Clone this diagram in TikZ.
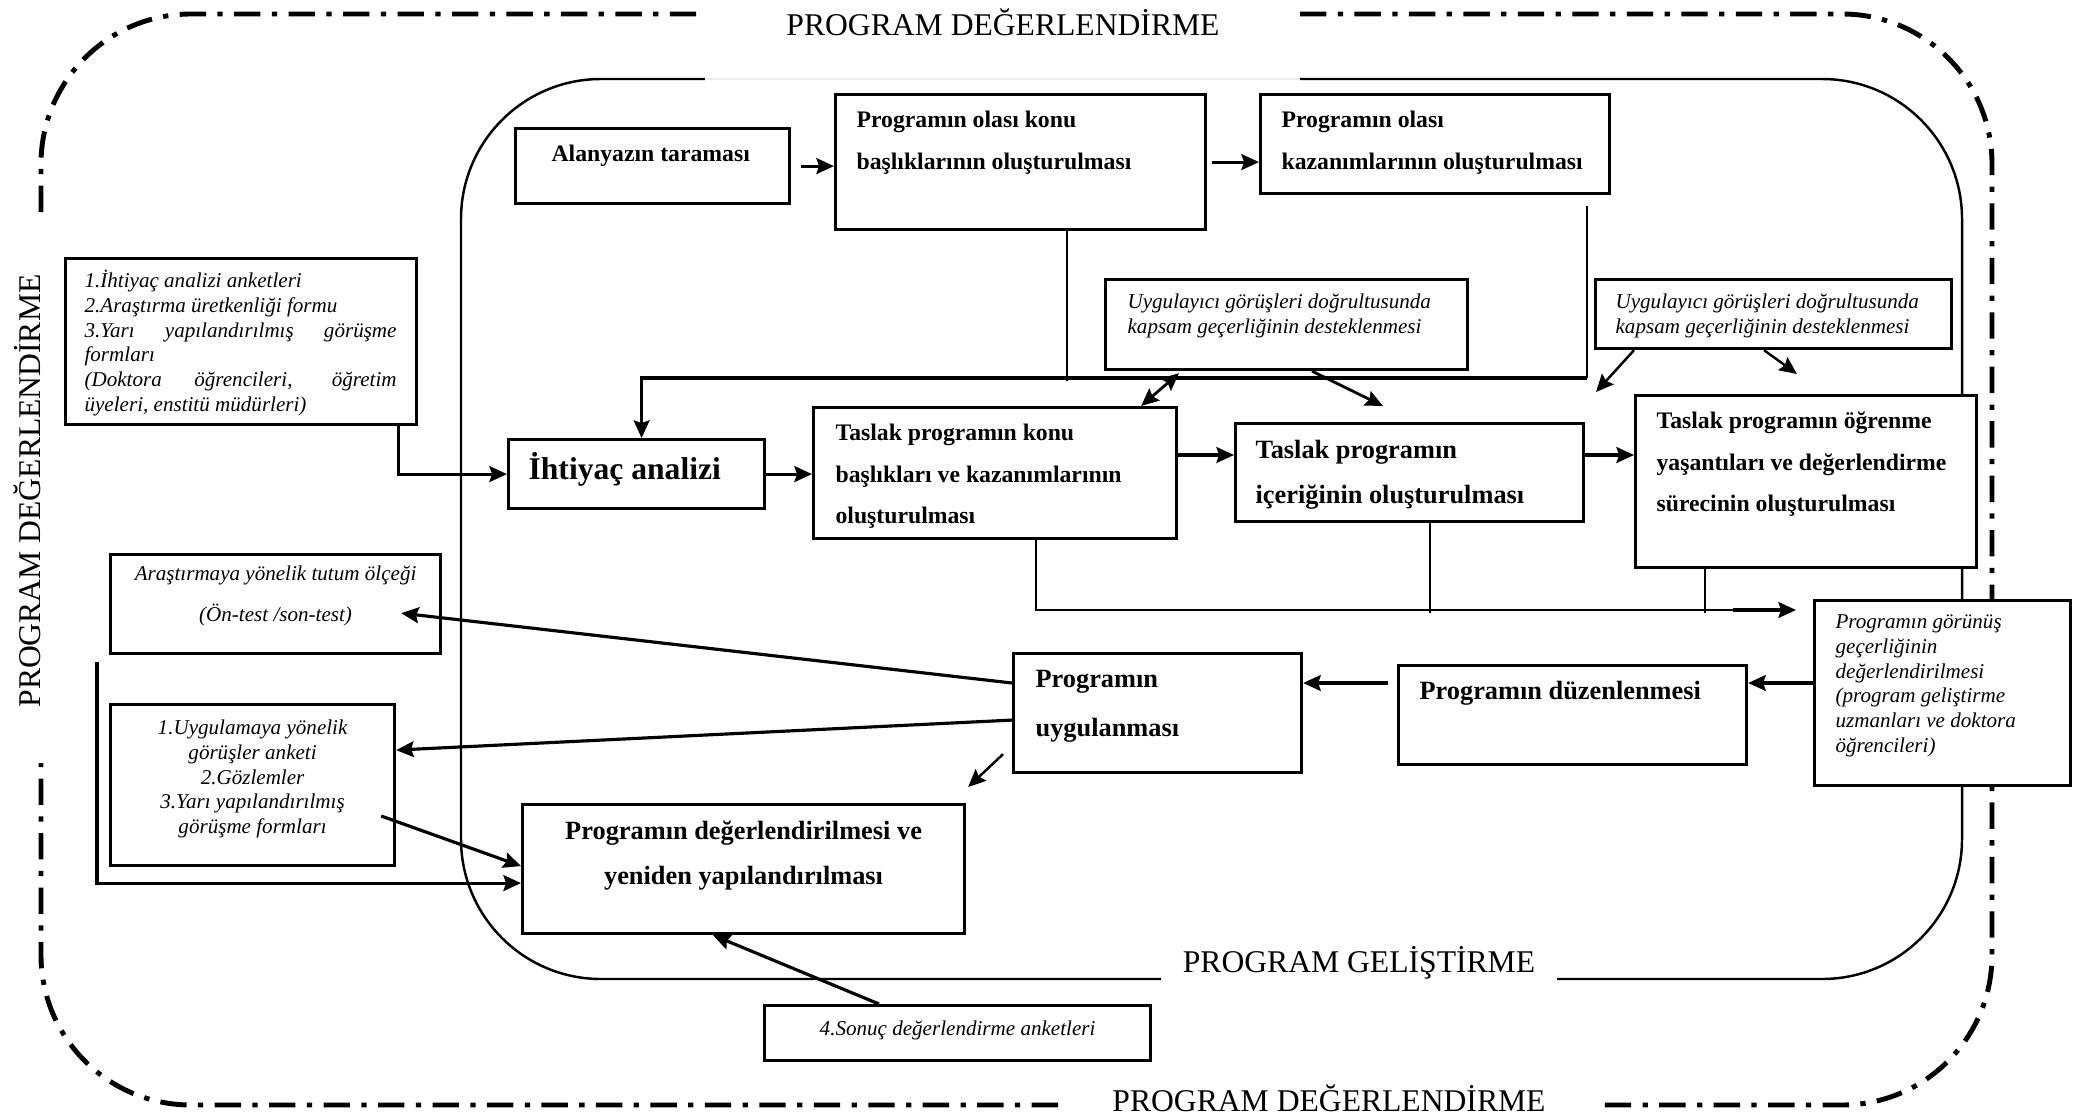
\documentclass[tikz,border=0pt]{standalone}
\usepackage{fontspec}
\setmainfont{Liberation Serif}
\usetikzlibrary{arrows.meta,calc}

\newlength{\pxu}
\setlength{\pxu}{0.02cm}
\newcommand{\inbox}[6]{\parbox[c][#2][t]{#1}{\leftskip=#4\rightskip=#5\vspace*{\dimexpr#3-0.9em\relax}\rule{0pt}{0.9em}#6}}
\newcommand{\boxfont}{\fontsize{13.5}{23.6}\selectfont\bfseries}
\newcommand{\bigboxfont}{\fontsize{15}{25.8}\selectfont\bfseries}
\newcommand{\headfont}{\fontsize{18}{22}\selectfont\bfseries}
\newcommand{\notefont}{\fontsize{12}{14.1}\selectfont\itshape}
\newcommand{\framefont}{\fontsize{18}{22}\selectfont}

\begin{document}
\begin{tikzpicture}[
			x = 0.02cm, y = -0.02cm,
      > = {Stealth[length=10pt,width=9pt,inset=1.5pt]},
			semithick]

			\tikzstyle{box}=[
			draw = black,
			line width = 1.8pt,
			fill = white,
			inner sep = 0pt,
			anchor = north west]
			\tikzstyle{link}=[line width = 1.1pt]
			\tikzstyle{flow}=[->, line width = 1.8pt]
			\tikzstyle{evalline}=[line width = 2.8pt, dash pattern = on 15pt off 6.5pt on 3pt off 6.5pt, rounded corners = 3cm]
			\tikzstyle{devline}=[line width = 1.4pt, rounded corners = 2.8cm]

			\useasboundingbox (0,0) rectangle (2081,1116);

			% program degerlendirme
			\draw[evalline] (1300,14) -- (1992,14) -- (1992,1105) -- (1599,1105);
			\draw[evalline] (1058,1105) -- (41,1105) -- (41,763);
			\draw[evalline] (41,212) -- (41,14) -- (705,14);
			\node[font=\framefont, anchor=base] (evaltop) at (1003,35) {PROGRAM DEĞERLENDİRME};
			\node[font=\framefont, anchor=base] (evalbottom) at (1329,1111) {PROGRAM DEĞERLENDİRME};
			\node[font=\framefont, anchor=base, rotate=90] (evalleft) at (40,491) {PROGRAM DEĞERLENDİRME};

			% program gelistirme
			\draw[devline] (705,79) -- (461,79) -- (461,979) -- (1161,979);
			\draw[devline] (1557,979) -- (1962,979) -- (1962,79) -- (1300,79);
			\draw[gray!15, line width = 0.6pt] (705,79) -- (1300,79);
			\node[font=\framefont, anchor=base] (devlabel) at (1359,972) {PROGRAM GELİŞTİRME};

			\node[box, font=\boxfont] (alan) at (514,127)
			{\inbox{274\pxu}{75\pxu}{33\pxu}{36\pxu}{0pt}{Alanyazın taraması}};
			\node[box, font=\boxfont] (konu) at (834,93)
			{\inbox{370\pxu}{135\pxu}{33\pxu}{21\pxu}{0pt}{Programın olası konu\\ başlıklarının oluşturulması}};
			\node[box, font=\boxfont] (kaz) at (1259,93)
			{\inbox{349\pxu}{99\pxu}{33\pxu}{21\pxu}{0pt}{Programın olası\\ kazanımlarının oluşturulması}};
			\node[box, font=\headfont] (ihtiyac) at (507,438)
			{\inbox{256\pxu}{69\pxu}{40\pxu}{20\pxu}{0pt}{İhtiyaç analizi}};
			\node[box, font=\boxfont] (taslakkonu) at (812,406)
			{\inbox{363\pxu}{131\pxu}{33\pxu}{22\pxu}{0pt}{Taslak programın konu\\ başlıkları ve kazanımlarının\\ oluşturulması}};
			\node[box, font=\bigboxfont] (icerik) at (1234,422)
			{\inbox{348\pxu}{98\pxu}{35\pxu}{20\pxu}{0pt}{Taslak programın\\ içeriğinin oluşturulması}};
			\node[box, font=\boxfont] (ogrenme) at (1634,394)
			{\inbox{341\pxu}{172\pxu}{33\pxu}{21\pxu}{0pt}{Taslak programın öğrenme\\ yaşantıları ve değerlendirme\\ sürecinin oluşturulması}};
			\node[box, font=\notefont] (gorunus) at (1813,599)
			{\inbox{256\pxu}{185\pxu}{28\pxu}{21\pxu}{0pt}{Programın görünüş\\ geçerliğinin\\ değerlendirilmesi\\ (program geliştirme\\ uzmanları ve doktora\\ öğrencileri)}};
			\node[box, font=\bigboxfont] (duzen) at (1397,664)
			{\inbox{348\pxu}{99\pxu}{34\pxu}{21\pxu}{0pt}{Programın düzenlenmesi}};
			\node[box, font=\bigboxfont] (uygulan) at (1012,652)
			{\inbox{288\pxu}{119\pxu}{34\pxu}{22\pxu}{0pt}{Programın\\[2pt] uygulanması}};
			\node[box, font=\bigboxfont] (deger) at (521,803)
			{\inbox{442\pxu}{129\pxu}{35\pxu}{0pt}{0pt}{\centering Programın değerlendirilmesi ve\\ yeniden yapılandırılması}};

			% olcme araclari
			\node[box, font=\notefont] (analizform) at (64,257)
			{\inbox{351\pxu}{166\pxu}{29\pxu}{19\pxu}{20\pxu}{1.İhtiyaç analizi anketleri\\ 2.Araştırma üretkenliği formu\\ 3.Yarı yapılandırılmış görüşme\linebreak formları\\ (Doktora öğrencileri, öğretim\linebreak üyeleri, enstitü müdürleri)}};
			\node[box, font=\notefont] (tutum) at (109,553)
			{\inbox{330\pxu}{99\pxu}{26\pxu}{0pt}{0pt}{\centering Araştırmaya yönelik tutum ölçeği\\[9pt] (Ön-test /son-test)}};
			\node[box, font=\notefont] (uygform) at (109,703)
			{\inbox{284\pxu}{161\pxu}{30\pxu}{0pt}{0pt}{\centering 1.Uygulamaya yönelik\\ görüşler anketi\\ 2.Gözlemler\\ 3.Yarı yapılandırılmış\\ görüşme formları}};
			\node[box, font=\notefont] (uyggorus1) at (1104,278)
			{\inbox{362\pxu}{90\pxu}{29\pxu}{22\pxu}{0pt}{Uygulayıcı görüşleri doğrultusunda\\ kapsam geçerliğinin desteklenmesi}};
			\node[box, font=\notefont] (uyggorus2) at (1594,278)
			{\inbox{356\pxu}{69\pxu}{29\pxu}{20\pxu}{0pt}{Uygulayıcı görüşleri doğrultusunda\\ kapsam geçerliğinin desteklenmesi}};
			\node[box, font=\notefont] (sonuc) at (763,1004)
			{\inbox{386\pxu}{55\pxu}{30\pxu}{0pt}{0pt}{\centering 4.Sonuç değerlendirme anketleri}};

			\coordinate (arrowrow) at (0,455);
			\coordinate (backrow) at (0,683);
			\coordinate (collect) at (1733,610);
			\coordinate (feedback) at (0,378);
			\coordinate (recordstart) at (97,662);

			% ust akis
			\draw[flow, shorten <=0.2cm] (alan) -- (alan -| konu.west);
			\draw[flow, shorten <=0.1cm] (konu) -- (konu -| kaz.west);
			\draw[link] ($(konu.south west)+(233,0)$) -- ++(0,150);
			\draw[link] ($(kaz.south east)+(-24,11)$) coordinate (fbtop) -- (fbtop |- feedback);
			\draw[flow] (fbtop |- feedback) -| ($(ihtiyac.north)+(5,0)$);
			\draw[flow] ($(analizform.south east)+(-20,0)$) |- (ihtiyac.west);
			\draw[flow] (ihtiyac) -- (ihtiyac -| taslakkonu.west);
			\draw[flow] (taslakkonu.east |- arrowrow) -- (icerik.west |- arrowrow);
			\draw[flow] (icerik.east |- arrowrow) -- (ogrenme.west |- arrowrow);
			\draw[<->, line width = 1.6pt] ($(uyggorus1.south west)+(75,2)$) -- ($(taslakkonu.north east)+(-37,0)$);
			\draw[flow, line width = 1.6pt] ($(uyggorus1.south west)+(208,0)$) -- ($(icerik.north west)+(149,-16)$);
			\draw[flow, line width = 1.4pt] ($(uyggorus2.south west)+(40,0)$) -- ($(ogrenme.north west)+(-38,-2)$);
			\draw[flow, line width = 1.4pt] ($(uyggorus2.south west)+(170,0)$) -- ($(ogrenme.north west)+(163,-20)$);

			% gorunus gecerligi
			\draw[link] ($(taslakkonu.south west)+(224,0)$) |- (collect);
			\draw[link] ($(icerik.south west)+(196,0)$) -- ++(0,90);
			\draw[link] ($(ogrenme.south west)+(71,0)$) -- ++(0,44);
			\draw[flow] (collect) -- ($(gorunus.west |- collect)+(-17,0)$);

			% alt akis
			\draw[flow] (gorunus.west |- backrow) -- (duzen.east |- backrow);
			\draw[flow, shorten <=0.18cm] (duzen.west |- backrow) -- (uygulan.east |- backrow);
			\draw[flow] (uygulan.west |- backrow) -- ($(tutum.south east)+(-41,-42)$);
			\draw[flow] ($(uygulan.west)+(0,7)$) -- ($(uygform.east)+(0,-35)$);
			\draw[flow, line width = 1.4pt] ($(uygulan.south west)+(-9,-20)$) -- ($(deger.north east)+(2,-16)$);
			\draw[flow] ($(uygform.north east)+(-15,113)$) -- ($(deger.west)+(0,-3)$);
			\draw[flow] (recordstart) |- ($(deger.west)+(0,14)$);
			\draw[flow] ($(sonuc.north west)+(116,0)$) -- ($(deger.south west)+(192,0)$);
		\end{tikzpicture}
\end{document}
